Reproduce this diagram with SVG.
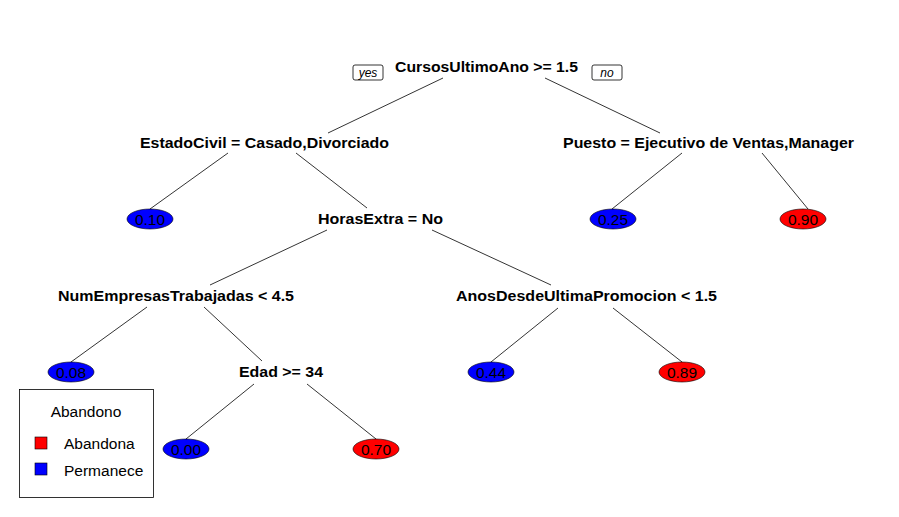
<svg xmlns="http://www.w3.org/2000/svg" width="899" height="517" viewBox="0 0 899 517">
<style>
.lbl{font-family:"Liberation Sans",Arial,sans-serif;font-size:15px;font-weight:bold;fill:#000;text-anchor:middle}
.val{font-family:"Liberation Sans",Arial,sans-serif;font-size:15.5px;fill:#000;text-anchor:middle}
.leg{font-family:"Liberation Sans",Arial,sans-serif;font-size:15.5px;fill:#000}
.yn{font-family:"Liberation Sans",Arial,sans-serif;font-size:12px;font-style:italic;fill:#000;text-anchor:middle}
.box{fill:#fff;stroke:#000;stroke-width:0.8}
.blue{fill:#0000ff;stroke:#000;stroke-width:0.6}
.red{fill:#ff0000;stroke:#000;stroke-width:0.6}
#edges line{stroke:#000;stroke-width:0.8}
</style>
<rect width="899" height="517" fill="#fff"/>
<g id="edges">
<line x1="443" y1="78" x2="328" y2="133"/>
<line x1="545" y1="78" x2="660" y2="133"/>
<line x1="228" y1="153" x2="150" y2="209"/>
<line x1="296" y1="153" x2="367" y2="208"/>
<line x1="682" y1="153" x2="612" y2="209"/>
<line x1="762" y1="153" x2="808" y2="209"/>
<line x1="327" y1="230" x2="210" y2="285"/>
<line x1="432" y1="230" x2="551" y2="285"/>
<line x1="147" y1="307" x2="71" y2="362"/>
<line x1="204" y1="307" x2="262" y2="361"/>
<line x1="558" y1="308" x2="491" y2="362"/>
<line x1="613" y1="308" x2="682" y2="362"/>
<line x1="254" y1="384" x2="186" y2="439"/>
<line x1="307" y1="384" x2="376" y2="439"/>
</g>
<g id="root">
<rect class="box" x="353" y="65" width="30" height="15" rx="2"/>
<text class="yn" x="368" y="77">yes</text>
<rect class="box" x="592" y="65" width="30" height="15" rx="2"/>
<text class="yn" x="607" y="77">no</text>
<text class="lbl" x="486.5" y="72" textLength="183" lengthAdjust="spacingAndGlyphs">CursosUltimoAno &gt;= 1.5</text>
</g>
<g id="n_estadocivil"><text class="lbl" x="264.5" y="148" textLength="249" lengthAdjust="spacingAndGlyphs">EstadoCivil = Casado,Divorciado</text></g>
<g id="n_puesto"><text class="lbl" x="708.5" y="148" textLength="291" lengthAdjust="spacingAndGlyphs">Puesto = Ejecutivo de Ventas,Manager</text></g>
<g id="leaf_010"><ellipse class="blue" cx="150" cy="219" rx="23" ry="10"/><text class="val" x="150" y="225">0.10</text></g>
<g id="n_horasextra"><text class="lbl" x="380.5" y="224" textLength="125" lengthAdjust="spacingAndGlyphs">HorasExtra = No</text></g>
<g id="leaf_025"><ellipse class="blue" cx="613" cy="219" rx="23" ry="10"/><text class="val" x="613" y="225">0.25</text></g>
<g id="leaf_090"><ellipse class="red" cx="803" cy="219" rx="23" ry="10"/><text class="val" x="803" y="225">0.90</text></g>
<g id="n_numempresas"><text class="lbl" x="176" y="301" textLength="236" lengthAdjust="spacingAndGlyphs">NumEmpresasTrabajadas &lt; 4.5</text></g>
<g id="n_anosdesde"><text class="lbl" x="586.5" y="301" textLength="261" lengthAdjust="spacingAndGlyphs">AnosDesdeUltimaPromocion &lt; 1.5</text></g>
<g id="leaf_008"><ellipse class="blue" cx="71" cy="372" rx="23" ry="10"/><text class="val" x="71" y="378">0.08</text></g>
<g id="n_edad"><text class="lbl" x="281" y="377" textLength="84" lengthAdjust="spacingAndGlyphs">Edad &gt;= 34</text></g>
<g id="leaf_044"><ellipse class="blue" cx="491" cy="372" rx="23" ry="10"/><text class="val" x="491" y="378">0.44</text></g>
<g id="leaf_089"><ellipse class="red" cx="682" cy="372" rx="23" ry="10"/><text class="val" x="682" y="378">0.89</text></g>
<g id="leaf_000"><ellipse class="blue" cx="186" cy="449" rx="23" ry="10"/><text class="val" x="186" y="455">0.00</text></g>
<g id="leaf_070"><ellipse class="red" cx="376" cy="449" rx="23" ry="10"/><text class="val" x="376" y="455">0.70</text></g>
<g id="legend">
<rect x="19.5" y="389.5" width="134" height="108" fill="#fff" stroke="#000" stroke-width="0.8"/>
<text class="leg" x="86" y="417" text-anchor="middle">Abandono</text>
<rect x="35" y="437" width="12" height="12" fill="#ff0000" stroke="#000" stroke-width="0.6"/>
<text class="leg" x="64" y="449">Abandona</text>
<rect x="35" y="463" width="12" height="12" fill="#0000ff" stroke="#000" stroke-width="0.6"/>
<text class="leg" x="64" y="476">Permanece</text>
</g>
</svg>
